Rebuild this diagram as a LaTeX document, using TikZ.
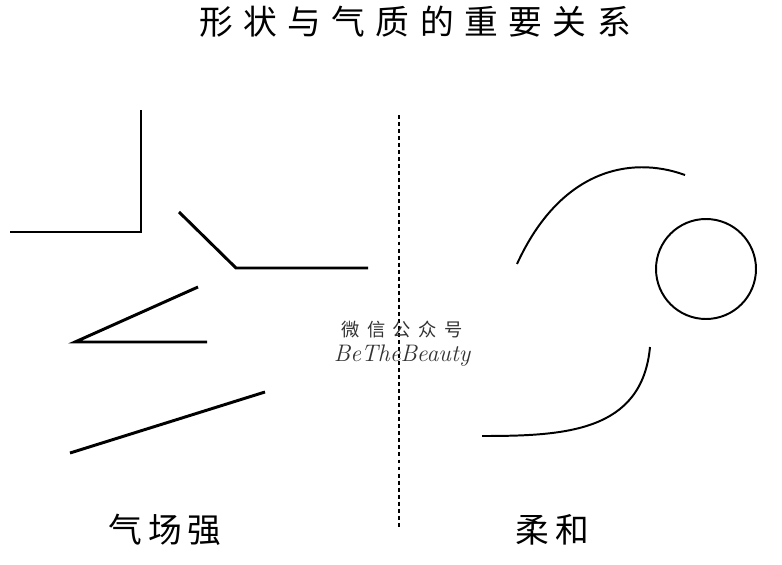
\documentclass[tikz,border=0pt]{standalone}
\usepackage{fontspec}
\usepackage{tikz}
\usetikzlibrary{positioning}
\newfontfamily\titlecjk[LetterSpace=31]{Noto Sans CJK SC}
\newfontfamily\labelcjk[LetterSpace=18]{Noto Sans CJK SC}
\newfontfamily\markcjk[LetterSpace=40]{Noto Sans CJK SC}
\tikzset{
	title/.style={
		font=\titlecjk\fontsize{24}{24}\selectfont,
		inner sep=0pt
	},
	sidelabel/.style={
		font=\labelcjk\fontsize{24}{24}\selectfont,
		inner sep=0pt
	},
	watermark/.style={
		text=black!80,
		inner sep=0pt
	},
	hard/.style={line width=2.1pt, line join=miter},
	soft/.style={line width=1.4pt},
	divider/.style={line width=1.3pt, dash pattern=on 2.8pt off 2.2pt}
}

\begin{document}
\begin{tikzpicture}[x=0.025cm, y=-0.025cm]
	\useasboundingbox (0,0) rectangle (782,565);
	\fill[white] (0,0) rectangle (782,565);
	
	\node (head) [title] at (415,22) {形状与气质的重要关系};
	
	\coordinate (top) at (399,115);
	\coordinate (bottom) at (399,527);
	\draw [divider] (top) -- (bottom);
	
	\node (wxtext) [watermark, font=\markcjk\fontsize{13}{13}\selectfont] at (402,330) {微信公众号};
	\node (wxname) [watermark, font=\itshape\fontsize{17}{17}\selectfont, below=4pt of wxtext] {BeTheBeauty};
	
	% strong side
	\coordinate (a1) at (141,110);
	\coordinate (a2) at (141,232);
	\coordinate (a3) at (10,232);
	\draw [hard] (a1) -- (a2) -- (a3);
	
	\coordinate (b1) at (179,212);
	\coordinate (b2) at (236,268);
	\coordinate (b3) at (368,268);
	\draw [hard] (b1) -- (b2) -- (b3);
	
	\coordinate (c1) at (198,287);
	\coordinate (c2) at (75,342);
	\coordinate (c3) at (207,342);
	\draw [hard] (c1) -- (c2) -- (c3);
	
	\coordinate (d1) at (70,453);
	\coordinate (d2) at (265,392);
	\draw [hard] (d1) -- (d2);
	
	% soft side
	\coordinate (e1) at (517,264);
	\coordinate (e2) at (685,175);
	\draw [soft] (e1) .. controls (560,170) and (630,155) .. (e2);
	
	\node (ring) [draw, circle, soft, minimum size=100*0.025cm, inner sep=0pt] at (706,269) {};
	
	\coordinate (f1) at (650,347);
	\coordinate (f2) at (482,436);
	\draw [soft] (f1) .. controls (642,432) and (565,436) .. (f2);
	
	\node (strong) [sidelabel] at (165,530) {气场强};
	\node (gentle) [sidelabel] at (552,530) {柔和};
\end{tikzpicture}
\end{document}
